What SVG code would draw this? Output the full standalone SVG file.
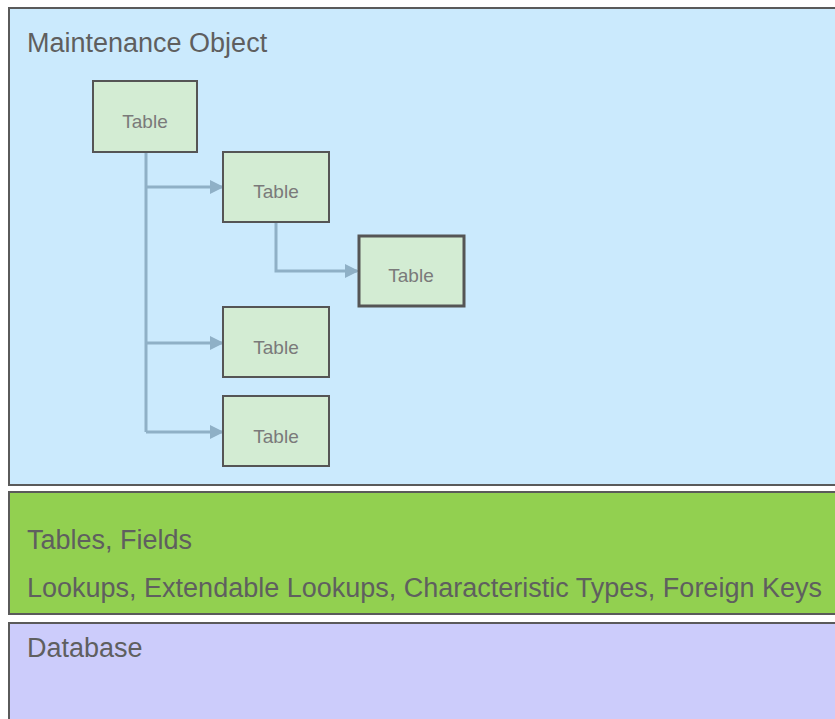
<svg xmlns="http://www.w3.org/2000/svg" width="835" height="719" viewBox="0 0 835 719">
<defs>
<style>
.panel{stroke:#5a5a5a;stroke-width:2}
.big{font-family:"Liberation Sans",Arial,sans-serif;font-size:27px;fill:#5f5f5f}
.tbl rect{fill:#d3ecd3;stroke:#555;stroke-width:2}
.tbl text{font-family:"Liberation Sans",Arial,sans-serif;font-size:19px;fill:#7a7a7a;text-anchor:middle}
.conn{fill:none;stroke:#8fb0c6;stroke-width:3}
</style>
<marker id="arr" markerWidth="14" markerHeight="14" refX="12" refY="7" orient="auto" markerUnits="userSpaceOnUse">
<path d="M0,0 L14,7 L0,14 Z" fill="#8fb0c6"/>
</marker>
</defs>
<rect width="835" height="719" fill="#ffffff"/>
<g id="maintenance-object">
<rect class="panel" x="9" y="8" width="840" height="477" fill="#cbeafd"/>
<text class="big" x="27" y="52">Maintenance Object</text>
</g>
<g id="tables-fields">
<rect class="panel" x="9" y="492" width="840" height="122" fill="#92d050"/>
<text class="big" x="27" y="549">Tables, Fields</text>
<text class="big" x="27" y="597">Lookups, Extendable Lookups, Characteristic Types, Foreign Keys</text>
</g>
<g id="database">
<rect class="panel" x="9" y="623" width="840" height="110" fill="#ccccfb"/>
<text class="big" x="27" y="657">Database</text>
</g>
<g id="connectors">
<path class="conn" d="M146,152 V432"/>
<path class="conn" d="M146,187 H222" marker-end="url(#arr)"/>
<path class="conn" d="M146,343 H222" marker-end="url(#arr)"/>
<path class="conn" d="M146,432 H222" marker-end="url(#arr)"/>
<path class="conn" d="M276,222 V271 H357" marker-end="url(#arr)"/>
</g>
<g id="table1" class="tbl"><rect x="93" y="81" width="104" height="71"/><text x="145" y="128">Table</text></g>
<g id="table2" class="tbl"><rect x="223" y="152" width="106" height="70"/><text x="276" y="198">Table</text></g>
<g id="table3" class="tbl"><rect x="359" y="236" width="105" height="70" style="stroke-width:3"/><text x="411" y="282">Table</text></g>
<g id="table4" class="tbl"><rect x="223" y="307" width="106" height="70"/><text x="276" y="354">Table</text></g>
<g id="table5" class="tbl"><rect x="223" y="396" width="106" height="70"/><text x="276" y="443">Table</text></g>
</svg>
